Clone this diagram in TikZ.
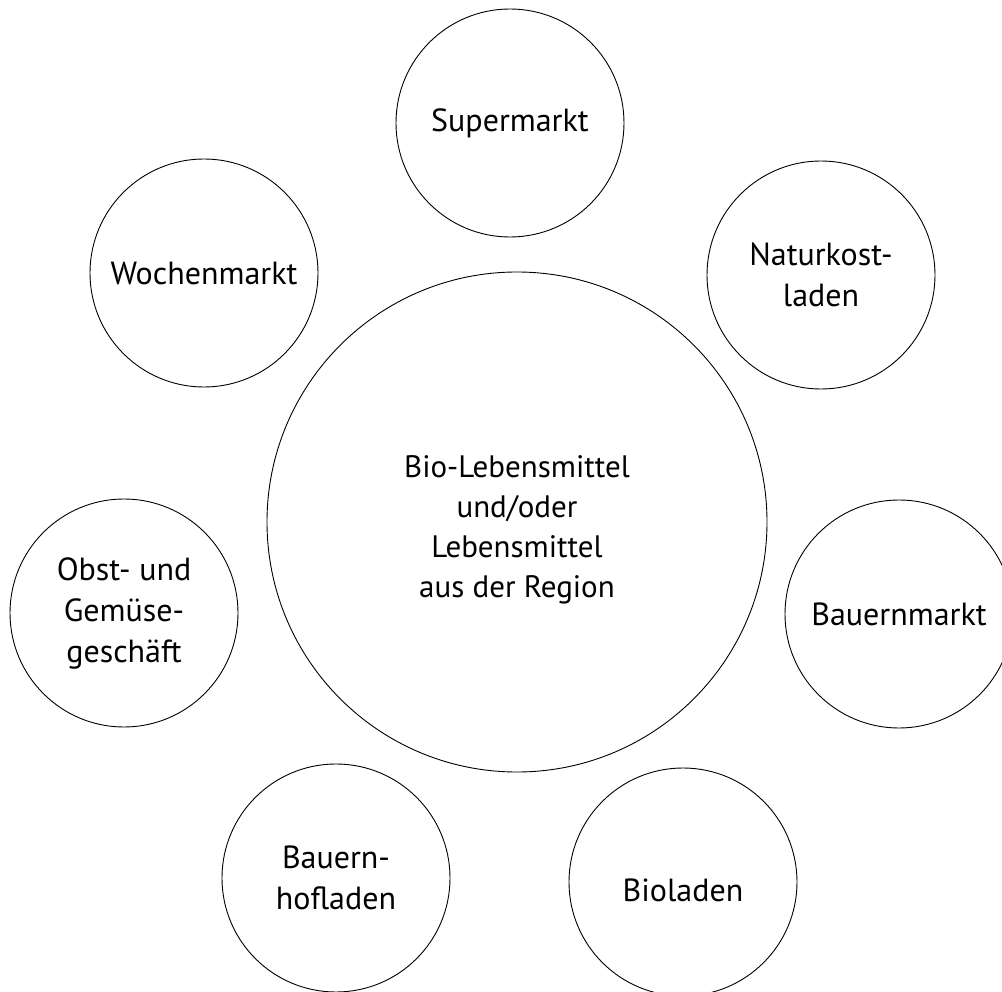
\documentclass[tikz,border=0pt]{standalone}
\usepackage{fontspec}
\setmainfont{PT Sans}
\begin{document}
\begin{tikzpicture}[x=1pt,y=-1pt,
  ring/.style={draw=black,line width=0.9pt,circle,inner sep=0pt,minimum size=228pt,align=center,
    font=\fontsize{32}{41}\selectfont},
  hub/.style={draw=black,line width=0.9pt,circle,inner sep=0pt,minimum size=500pt},
  hubtext/.style={inner sep=0pt,align=center,font=\fontsize{31}{40}\selectfont},
  ringtext/.style={inner sep=0pt,align=center,font=\fontsize{32}{41}\selectfont}]
\useasboundingbox (0,0) rectangle (1002,992);
\clip (0,0) rectangle (1002,992);
\node[hub] (hub) at (517,522) {};
\node[hubtext] (hubtxt) at ([yshift=-8pt]hub.center) {Bio-Lebensmittel\\und/oder\\Lebensmittel\\aus der Region};
\node[ring] (super) at (510,123) {Supermarkt};
\node[ring] (woche) at (204,273) {Wochenmarkt};
\node[ring] (natur) at (821,275) {Naturkost-\\laden};
\node[ring] (obst) at (124,613) {Obst- und\\Gemüse-\\geschäft};
\node[ring] (bmarkt) at (899,614) {Bauernmarkt};
\node[ring] (bhof) at (336,878) {Bauern-\\hofladen};
\node[ring] (bio) at (683,882) {};
\node[ringtext] (biotxt) at ([yshift=-8pt]bio.center) {Bioladen};
\end{tikzpicture}
\end{document}
